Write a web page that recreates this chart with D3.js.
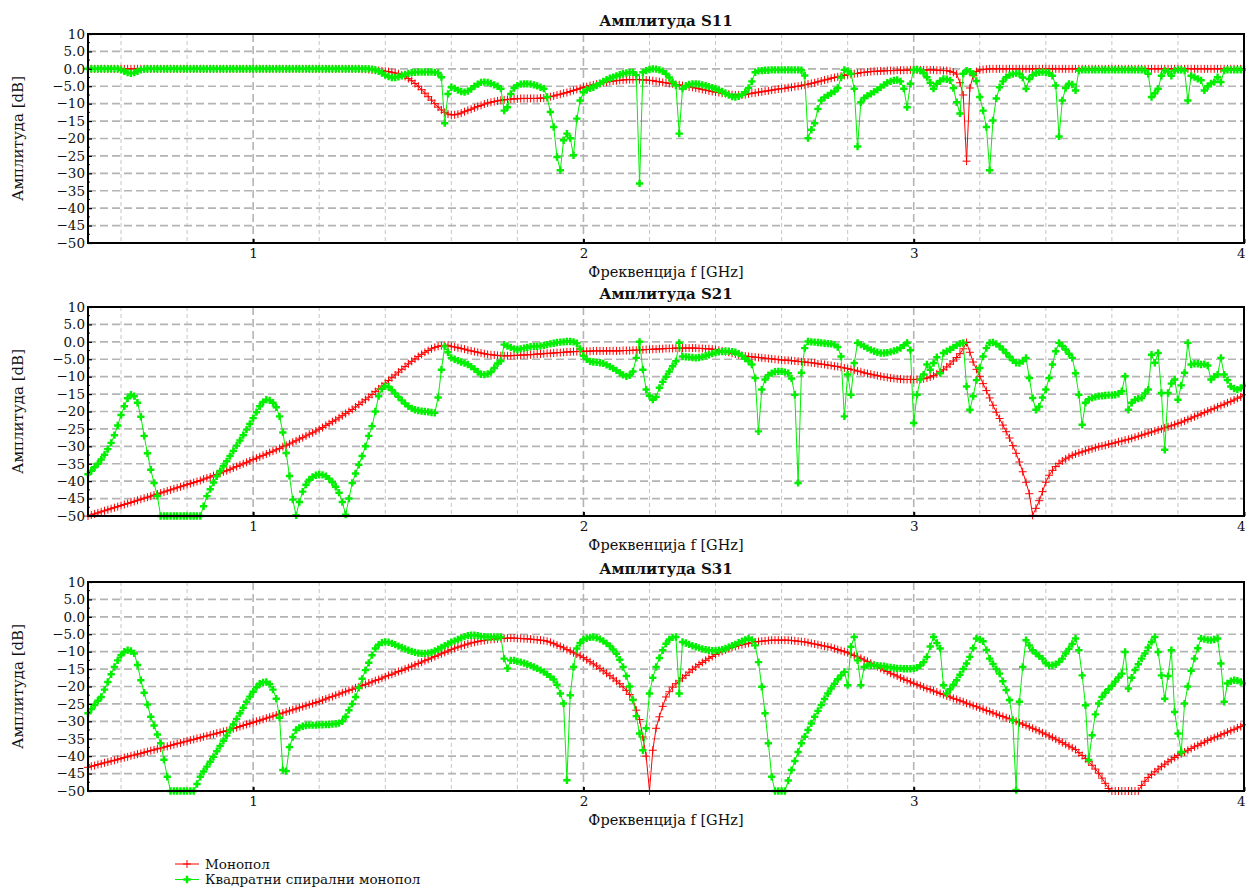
<!DOCTYPE html>
<html>
<head>
<meta charset="utf-8">
<script src="https://cdn.jsdelivr.net/npm/d3@7"></script>
<style>
  body { margin: 0; background: #fff; }
  svg text { font-family: "DejaVu Serif", serif; fill: #111; }
</style>
</head>
<body>
<svg id="chart" width="1246" height="888"></svg>
<script>
// Frequency sweep: 0.50 – 4.00 GHz, 351 points
const sweepStartGHz = 0.5, sweepStepGHz = 0.01, sweepPoints = 351;
const freqGHz = d3.range(sweepPoints).map(i => +(sweepStartGHz + i * sweepStepGHz).toFixed(2));

// |S11| [dB], one row per 0.1 GHz
const s11Mono = [
  0,0,0,0,0,0,0,0,0,0,
  0,0,0,0,0,0,0,0,0,0,
  0,0,0,0,0,0,0,0,0,0,
  0,0,0,0,0,0,0,0,0,0,
  0,0,0,0,0,0,0,0,0,0,
  0,0,0,0,0,0,0,0,0,0,
  0,0,0,0,0,0,0,0,0,0,
  0,0,0,0,0,0,0,0,0,0,
  0,0,0,-0.1,-0.1,-0.2,-0.3,-0.4,-0.5,-0.6,
  -0.7,-0.8,-1.0,-1.2,-1.4,-1.8,-2.2,-2.8,-3.4,-4.2,
  -5.0,-6.0,-7.0,-8.0,-9.0,-10.0,-11.0,-11.8,-12.5,-13.0,
  -13.2,-13.2,-13.0,-12.7,-12.3,-11.9,-11.6,-11.2,-10.8,-10.5,
  -10.1,-9.8,-9.6,-9.4,-9.2,-9.0,-8.9,-8.8,-8.7,-8.6,
  -8.6,-8.5,-8.5,-8.5,-8.5,-8.5,-8.5,-8.4,-8.4,-8.3,
  -8.0,-7.8,-7.5,-7.3,-7.0,-6.8,-6.5,-6.2,-5.9,-5.6,
  -5.3,-5.1,-4.8,-4.6,-4.4,-4.2,-4.0,-3.8,-3.6,-3.5,
  -3.4,-3.3,-3.2,-3.1,-3.1,-3.1,-3.1,-3.1,-3.2,-3.2,
  -3.3,-3.4,-3.6,-3.7,-3.9,-4.0,-4.2,-4.3,-4.5,-4.6,
  -4.8,-5.0,-5.2,-5.3,-5.5,-5.7,-5.9,-6.1,-6.3,-6.5,
  -6.7,-6.8,-7.0,-7.1,-7.3,-7.4,-7.5,-7.5,-7.5,-7.4,
  -7.2,-7.0,-6.9,-6.7,-6.6,-6.4,-6.3,-6.1,-6.0,-5.8,
  -5.7,-5.6,-5.4,-5.3,-5.1,-5.0,-4.8,-4.6,-4.4,-4.2,
  -4.0,-3.7,-3.5,-3.2,-3.0,-2.7,-2.5,-2.3,-2.1,-1.9,
  -1.7,-1.6,-1.4,-1.3,-1.1,-1.0,-0.9,-0.8,-0.7,-0.7,
  -0.6,-0.6,-0.5,-0.5,-0.5,-0.4,-0.4,-0.4,-0.4,-0.3,
  -0.3,-0.3,-0.3,-0.3,-0.3,-0.3,-0.3,-0.4,-0.4,-0.5,
  -0.5,-0.7,-1.0,-1.5,-4.0,-7.5,-26.5,-5.5,-2.0,-0.8,
  -0.3,-0.2,-0.1,0,0,0,0,0,0,0,
  0,0,0,0,0,0,0,0,0,0,
  0,0,0,0,0,0,0,0,0,0,
  0,0,0,0,0,0,0,0,0,0,
  0,0,0,0,0,0,0,0,0,0,
  0,0,0,0,0,0,0,0,0,0,
  0,0,0,0,0,0,0,0,0,0,
  0,0,0,0,0,0,0,0,0,0,
  0
];
const s11Spiral = [
  0,0,0,0,0,0,0,0,0,0,
  -0.3,-0.7,-1.1,-1.3,-1.1,-0.7,-0.3,-0.1,0,0,
  0,0,0,0,0,0,0,0,0,0,
  0,0,0,0,0,0,0,0,0,0,
  0,0,0,0,0,0,0,0,0,0,
  0,0,0,0,0,0,0,0,0,0,
  0,0,0,0,0,0,0,0,0,0,
  0,0,0,0,0,0,0,0,0,0,
  0,0,0,0,0,0,-0.1,-0.3,-0.7,-1.2,
  -1.8,-2.2,-2.5,-2.5,-2.3,-2.0,-1.6,-1.3,-1.1,-1.0,
  -0.9,-0.9,-0.9,-0.9,-0.9,-1.0,-1.2,-2.4,-15.6,-7.2,
  -5.3,-5.6,-6.1,-6.5,-6.7,-6.4,-5.8,-5.0,-4.4,-3.9,
  -3.8,-3.9,-4.2,-4.6,-5.0,-5.7,-12.0,-11.0,-7.2,-5.5,
  -4.8,-4.4,-4.3,-4.3,-4.4,-4.6,-4.9,-5.3,-5.7,-8.1,
  -12.4,-16.7,-25.3,-29.1,-20.5,-18.6,-19.9,-24.8,-14.3,-9.1,
  -6.7,-6.0,-5.6,-5.3,-4.8,-4.2,-3.6,-3.1,-2.7,-2.4,
  -2.0,-1.7,-1.4,-1.2,-1.0,-1.0,-1.8,-32.9,-1.0,-0.5,
  -0.2,0,-0.1,-0.3,-0.7,-1.4,-2.5,-3.8,-4.8,-18.6,
  -5.7,-4.9,-4.5,-4.3,-4.3,-4.4,-4.6,-4.8,-5.1,-5.4,
  -5.7,-6.1,-6.5,-7.0,-7.5,-8.0,-8.1,-7.9,-7.4,-6.7,
  -5.5,-3.6,-1.0,-0.6,-0.5,-0.4,-0.4,-0.3,-0.3,-0.3,
  -0.3,-0.3,-0.3,-0.3,-0.3,-0.3,-0.4,-1.9,-19.9,-17.5,
  -15.6,-11.5,-9.1,-8.2,-7.6,-7.0,-6.5,-5.5,-2.5,-0.3,
  -0.6,-1.4,-5.7,-22.3,-9.6,-8.4,-7.7,-7.2,-6.6,-6.0,
  -5.3,-4.6,-4.0,-3.6,-3.3,-3.2,-3.6,-5.7,-11.0,-4.3,
  -0.3,-0.2,-0.5,-1.2,-2.4,-4.0,-5.7,-4.3,-3.5,-2.9,
  -3.0,-3.3,-5.5,-9.6,-12.8,-1.4,-0.5,-0.8,-1.4,-3.5,
  -8.1,-12.0,-16.7,-29.1,-14.8,-8.5,-5.3,-3.6,-2.4,-1.8,
  -1.5,-1.3,-1.4,-2.5,-5.7,-2.9,-1.8,-1.2,-1.0,-0.9,
  -1.0,-1.2,-2.0,-4.8,-19.4,-9.1,-5.5,-4.3,-4.5,-6.2,
  -0.5,-0.3,-0.3,-0.3,-0.3,-0.3,-0.3,-0.3,-0.3,-0.3,
  -0.3,-0.3,-0.3,-0.3,-0.3,-0.3,-0.3,-0.3,-0.3,-0.3,
  -0.4,-1.4,-8.1,-7.0,-5.7,-2.0,-0.5,-0.8,-2.0,-0.5,
  -0.3,-0.3,-0.5,-9.1,-2.0,-2.4,-2.9,-3.3,-6.2,-5.0,
  -4.2,-3.8,-2.4,-3.8,-0.5,-0.3,-0.3,-0.3,-0.3,-0.3,
  -0.3
];

// |S21| [dB]
const s21Mono = [
  -50.0,-49.7,-49.4,-49.1,-48.8,-48.5,-48.2,-47.9,-47.6,-47.3,
  -47.0,-46.7,-46.4,-46.1,-45.8,-45.5,-45.2,-44.9,-44.6,-44.3,
  -44.0,-43.7,-43.4,-43.1,-42.8,-42.5,-42.2,-41.9,-41.6,-41.3,
  -41.0,-40.7,-40.4,-40.1,-39.8,-39.4,-39.1,-38.8,-38.4,-38.1,
  -37.7,-37.3,-37.0,-36.6,-36.2,-35.8,-35.4,-35.0,-34.6,-34.2,
  -33.8,-33.4,-33.0,-32.6,-32.2,-31.8,-31.4,-31.0,-30.6,-30.1,
  -29.7,-29.3,-28.8,-28.4,-27.9,-27.5,-27.0,-26.5,-26.1,-25.6,
  -25.1,-24.6,-24.0,-23.5,-22.9,-22.4,-21.8,-21.2,-20.6,-20.0,
  -19.4,-18.7,-18.0,-17.3,-16.6,-15.9,-15.1,-14.3,-13.5,-12.7,
  -11.9,-11.1,-10.3,-9.5,-8.7,-7.9,-7.1,-6.3,-5.6,-4.9,
  -4.2,-3.6,-3.0,-2.5,-2.0,-1.6,-1.3,-1.1,-1.0,-1.0,
  -1.3,-1.5,-1.7,-1.9,-2.1,-2.4,-2.6,-2.8,-3.0,-3.2,
  -3.4,-3.6,-3.7,-3.8,-3.9,-4.0,-4.0,-4.0,-4.0,-3.9,
  -3.9,-3.8,-3.8,-3.7,-3.7,-3.6,-3.5,-3.5,-3.4,-3.3,
  -3.3,-3.2,-3.1,-3.1,-3.0,-2.9,-2.9,-2.8,-2.8,-2.7,
  -2.7,-2.7,-2.7,-2.6,-2.6,-2.6,-2.6,-2.6,-2.6,-2.6,
  -2.6,-2.6,-2.5,-2.5,-2.5,-2.4,-2.4,-2.3,-2.3,-2.2,
  -2.2,-2.1,-2.1,-2.0,-2.0,-1.9,-1.9,-1.9,-1.8,-1.8,
  -1.8,-1.8,-1.8,-1.8,-1.8,-1.9,-1.9,-2.0,-2.0,-2.1,
  -2.2,-2.4,-2.6,-2.8,-3.0,-3.3,-3.5,-3.7,-3.9,-4.1,
  -4.2,-4.3,-4.4,-4.5,-4.6,-4.7,-4.8,-4.9,-5.0,-5.1,
  -5.2,-5.3,-5.3,-5.4,-5.5,-5.6,-5.7,-5.8,-5.9,-6.0,
  -6.1,-6.3,-6.4,-6.5,-6.7,-6.8,-7.0,-7.1,-7.3,-7.5,
  -7.7,-7.9,-8.1,-8.4,-8.6,-8.9,-9.1,-9.3,-9.5,-9.7,
  -9.9,-10.1,-10.2,-10.4,-10.5,-10.6,-10.7,-10.8,-10.8,-10.8,
  -10.8,-10.8,-10.7,-10.6,-10.4,-10.1,-9.7,-9.2,-8.6,-8.0,
  -7.2,-6.4,-5.5,-4.5,-3.4,-2.0,-0.2,-3.0,-5.8,-7.9,
  -9.9,-12.0,-14.0,-16.1,-18.2,-20.2,-22.0,-23.9,-25.8,-27.6,
  -29.8,-32.0,-34.5,-37.3,-40.3,-43.6,-49.8,-47.8,-45.6,-43.0,
  -40.3,-38.3,-36.9,-35.8,-34.9,-34.2,-33.6,-33.1,-32.6,-32.2,
  -31.9,-31.6,-31.3,-31.0,-30.7,-30.4,-30.1,-29.9,-29.7,-29.4,
  -29.2,-29.0,-28.7,-28.5,-28.2,-28.0,-27.7,-27.4,-27.1,-26.8,
  -26.5,-26.2,-25.9,-25.6,-25.3,-25.0,-24.7,-24.4,-24.1,-23.8,
  -23.4,-23.1,-22.7,-22.3,-21.9,-21.5,-21.1,-20.7,-20.3,-19.9,
  -19.5,-19.1,-18.7,-18.3,-17.9,-17.5,-17.1,-16.7,-16.2,-15.8,
  -15.2
];
const s21Spiral = [
  -38.0,-37.0,-36.0,-35.0,-33.8,-32.4,-30.8,-29.0,-26.8,-24.0,
  -21.0,-18.5,-16.2,-15.2,-15.6,-17.5,-21.5,-27.0,-32.0,-36.7,
  -40.5,-44.3,-50,-50,-50,-50,-50,-50,-50,-50,
  -50,-50,-50,-50,-50,-47.2,-44.3,-42.3,-40.4,-38.6,
  -37.1,-35.7,-34.3,-32.8,-31.3,-29.8,-28.3,-26.8,-25.2,-23.6,
  -21.9,-20.2,-18.5,-17.3,-16.6,-16.8,-17.5,-18.8,-21.4,-26.0,
  -31.9,-38.5,-45.3,-49.8,-46.0,-43.0,-41.0,-39.6,-38.8,-38.3,
  -38.1,-38.2,-38.6,-39.3,-40.3,-41.6,-43.3,-46.0,-49.6,-45.0,
  -40.5,-37.8,-35.3,-32.8,-30.0,-27.0,-24.2,-20.0,-15.6,-13.5,
  -12.8,-12.9,-13.8,-14.8,-15.8,-16.8,-17.7,-18.5,-19.1,-19.5,
  -19.7,-19.9,-20.0,-20.1,-20.3,-20.4,-16.0,-8.0,-1.3,-3.0,
  -4.6,-5.0,-5.4,-5.8,-6.1,-6.5,-7.1,-7.8,-8.6,-9.3,
  -9.4,-9.2,-8.7,-7.5,-6.2,-5.5,-0.8,-1.2,-1.6,-2.0,
  -2.2,-2.0,-1.8,-1.6,-1.4,-1.3,-1.3,-1.2,-1.0,-0.8,
  -0.6,-0.4,-0.2,-0.1,0.0,0.1,0.1,0.0,-0.4,-2.0,
  -4.0,-5.0,-5.6,-5.8,-5.9,-6.0,-6.2,-6.6,-7.1,-7.6,
  -8.2,-8.9,-9.5,-9.9,-9.6,-8.5,-4.6,0.0,-8.0,-13.7,
  -15.5,-16.6,-15.8,-13.2,-11.5,-10.0,-8.5,-7.0,-5.6,-0.3,
  -4.2,-4.3,-4.4,-4.5,-4.6,-4.5,-4.3,-4.0,-3.7,-3.4,
  -3.1,-2.9,-2.8,-2.7,-2.7,-2.8,-3.0,-3.4,-4.0,-4.8,
  -5.5,-6.5,-10.4,-25.7,-13.7,-10.8,-9.6,-9.0,-8.6,-8.5,
  -8.5,-8.7,-9.0,-10.5,-15.2,-40.5,-8.9,-1.8,0.1,0.0,
  -0.1,-0.2,-0.3,-0.4,-0.5,-0.6,-0.8,-1.5,-4.2,-21.4,
  -9.4,-15.2,-6.1,-0.3,-0.8,-1.3,-1.8,-2.3,-2.7,-3.0,
  -3.2,-3.2,-3.1,-2.9,-2.6,-2.3,-1.8,-1.0,-0.3,-2.4,
  -23.3,-15.2,-10.8,-9.4,-6.5,-8.0,-6.1,-4.4,-9.0,-3.2,
  -2.7,-2.2,-1.6,-1.0,-0.5,-0.3,-12.8,-19.5,-15.6,-11.0,
  -7.5,-4.2,-1.8,-0.3,-0.2,-0.6,-1.3,-2.2,-3.2,-4.3,
  -5.3,-6.0,-6.1,-5.5,-4.6,-10.4,-16.1,-19.5,-18.6,-16.0,
  -13.7,-10.4,-6.5,-2.7,-0.3,-1.2,-2.2,-3.4,-4.6,-9.0,
  -15.2,-23.8,-17.5,-16.5,-16.1,-15.8,-15.6,-15.5,-15.4,-15.3,
  -15.3,-15.2,-14.9,-14.2,-9.9,-19.5,-17.5,-16.6,-16.3,-16.1,
  -14.8,-13.7,-3.7,-6.0,-3.2,-14.7,-31.0,-14.7,-12.0,-10.8,
  -16.6,-12.5,-8.9,-0.3,-6.5,-6.3,-6.3,-6.5,-6.4,-6.8,
  -10.8,-10.0,-9.4,-4.6,-9.4,-11.0,-12.8,-13.4,-13.7,-13.3,
  -12.6
];

// |S31| [dB]
const s31Mono = [
  -43.2,-42.9,-42.7,-42.4,-42.2,-41.9,-41.7,-41.4,-41.2,-40.9,
  -40.7,-40.4,-40.2,-39.9,-39.7,-39.4,-39.2,-38.9,-38.7,-38.4,
  -38.2,-37.9,-37.7,-37.4,-37.2,-36.9,-36.7,-36.4,-36.2,-35.9,
  -35.7,-35.4,-35.2,-34.9,-34.7,-34.4,-34.2,-33.9,-33.7,-33.4,
  -33.2,-32.9,-32.7,-32.4,-32.1,-31.8,-31.5,-31.2,-30.9,-30.6,
  -30.3,-30.0,-29.7,-29.4,-29.1,-28.8,-28.5,-28.2,-27.9,-27.6,
  -27.3,-27.0,-26.7,-26.4,-26.1,-25.8,-25.5,-25.2,-24.9,-24.6,
  -24.3,-23.9,-23.6,-23.2,-22.9,-22.5,-22.2,-21.8,-21.5,-21.1,
  -20.8,-20.4,-20.1,-19.7,-19.4,-19.0,-18.7,-18.3,-18.0,-17.6,
  -17.2,-16.8,-16.5,-16.1,-15.7,-15.4,-15.0,-14.6,-14.2,-13.8,
  -13.4,-13.0,-12.6,-12.2,-11.8,-11.4,-11.0,-10.6,-10.2,-9.8,
  -9.4,-9.0,-8.7,-8.4,-8.1,-7.8,-7.5,-7.3,-7.1,-6.9,
  -6.8,-6.6,-6.5,-6.4,-6.3,-6.2,-6.2,-6.1,-6.1,-6.1,
  -6.2,-6.2,-6.3,-6.3,-6.4,-6.5,-6.6,-6.7,-6.8,-7.0,
  -7.3,-7.7,-8.1,-8.5,-8.9,-9.4,-9.8,-10.3,-10.7,-11.2,
  -11.7,-12.3,-12.9,-13.5,-14.1,-14.8,-15.5,-16.2,-16.9,-17.6,
  -18.4,-19.2,-20.1,-21.1,-22.3,-23.7,-26.8,-29.5,-34.5,-40.0,
  -50.0,-38.3,-32.0,-28.7,-25.7,-23.0,-21.5,-20.2,-19.2,-18.4,
  -17.6,-16.8,-15.9,-15.1,-14.4,-13.7,-13.1,-12.5,-11.9,-11.4,
  -10.8,-10.3,-9.9,-9.5,-9.1,-8.8,-8.5,-8.2,-8.0,-7.8,
  -7.6,-7.4,-7.2,-7.1,-7.0,-6.9,-6.8,-6.7,-6.7,-6.7,
  -6.7,-6.7,-6.7,-6.8,-6.9,-7.0,-7.1,-7.2,-7.4,-7.6,
  -7.8,-8.0,-8.2,-8.4,-8.6,-8.8,-9.1,-9.4,-9.7,-10.0,
  -10.3,-10.7,-11.1,-11.5,-11.9,-12.4,-12.8,-13.3,-13.8,-14.3,
  -14.8,-15.3,-15.7,-16.2,-16.6,-17.0,-17.5,-17.9,-18.3,-18.7,
  -19.1,-19.5,-19.8,-20.2,-20.6,-20.9,-21.3,-21.6,-22.0,-22.3,
  -22.7,-23.0,-23.4,-23.7,-24.1,-24.4,-24.8,-25.1,-25.5,-25.8,
  -26.2,-26.5,-26.9,-27.2,-27.6,-27.9,-28.3,-28.6,-29.0,-29.3,
  -29.7,-30.0,-30.4,-30.8,-31.2,-31.6,-32.0,-32.4,-32.8,-33.3,
  -33.7,-34.2,-34.6,-35.1,-35.6,-36.1,-36.6,-37.1,-37.6,-38.1,
  -39.0,-39.8,-40.7,-41.6,-42.6,-43.7,-44.9,-46.3,-47.8,-49.3,
  -50,-50,-50,-50,-50,-50,-50,-50,-50,-48.4,
  -47.2,-46.1,-45.3,-44.5,-43.7,-43.0,-42.3,-41.6,-41.0,-40.4,
  -39.8,-39.3,-38.8,-38.3,-37.8,-37.3,-36.9,-36.4,-36.0,-35.5,
  -35.1,-34.7,-34.3,-33.9,-33.5,-33.1,-32.7,-32.3,-31.9,-31.5,
  -31.0
];
const s31Spiral = [
  -27.7,-26.5,-25.3,-24.1,-23.0,-20.9,-18.7,-16.5,-14.4,-12.5,
  -11.0,-10.0,-9.6,-9.8,-10.5,-13.8,-18.2,-21.8,-25.2,-28.7,
  -31.2,-33.8,-36.3,-41.0,-45.9,-50,-50,-50,-50,-50,
  -50,-50,-50,-48.0,-45.9,-44.4,-43.0,-41.6,-40.2,-38.6,
  -37.1,-35.6,-34.1,-32.5,-30.9,-29.3,-27.7,-26.1,-24.4,-22.9,
  -21.5,-20.2,-19.2,-18.8,-18.7,-19.3,-20.9,-23.5,-29.0,-44.0,
  -44.3,-37.4,-34.5,-32.5,-31.8,-31.4,-31.2,-31.1,-31.1,-31.1,
  -31.0,-31.0,-30.9,-30.9,-30.8,-30.7,-30.5,-30.0,-28.7,-26.8,
  -25.0,-23.0,-20.4,-17.8,-15.3,-13.2,-11.0,-9.1,-8.0,-7.4,
  -7.2,-7.3,-7.6,-8.0,-8.4,-8.8,-9.2,-9.6,-9.9,-10.2,
  -10.4,-10.5,-10.5,-10.4,-10.2,-9.8,-9.3,-8.8,-8.3,-7.8,
  -7.3,-6.9,-6.5,-6.1,-5.7,-5.4,-5.3,-5.3,-5.4,-5.6,
  -5.7,-5.8,-5.8,-5.8,-5.8,-5.8,-12.0,-14.8,-12.5,-12.5,
  -12.8,-13.0,-13.3,-13.6,-14.0,-14.4,-14.8,-15.3,-15.8,-16.5,
  -17.2,-18.0,-19.5,-22.0,-24.9,-46.9,-22.5,-14.4,-9.1,-7.5,
  -6.5,-6.2,-5.9,-5.8,-6.0,-6.4,-6.9,-7.6,-8.4,-9.4,
  -10.6,-12.3,-14.4,-17.0,-20.0,-23.9,-28.5,-33.5,-38.3,-32.0,
  -22.0,-17.5,-14.4,-11.8,-9.6,-7.7,-6.5,-5.9,-5.8,-22.0,
  -7.2,-7.5,-7.9,-8.3,-8.6,-8.9,-9.2,-9.4,-9.6,-9.7,
  -9.7,-9.6,-9.4,-9.1,-8.7,-8.3,-7.9,-7.4,-7.0,-6.6,
  -6.2,-6.6,-8.2,-13.0,-20.1,-27.7,-36.3,-45.9,-50.0,-50.0,
  -50.0,-50.0,-47.0,-44.0,-41.4,-38.8,-36.3,-34.4,-32.5,-30.6,
  -28.7,-27.0,-25.3,-23.6,-22.0,-20.6,-19.2,-17.9,-16.8,-15.8,
  -19.6,-8.6,-5.8,-12.5,-19.6,-14.4,-14.0,-13.9,-13.9,-14.0,
  -14.1,-14.2,-14.4,-14.5,-14.7,-14.8,-14.8,-14.9,-14.9,-14.9,
  -14.8,-14.6,-14.0,-13.0,-11.5,-8.5,-5.8,-7.5,-9.1,-19.6,
  -22.0,-20.8,-19.5,-18.2,-16.6,-15.0,-13.4,-11.5,-9.0,-6.2,
  -6.5,-7.0,-9.5,-12.0,-13.5,-15.0,-16.3,-18.5,-21.0,-23.9,
  -29.7,-49.7,-24.4,-14.4,-6.7,-8.2,-9.6,-10.5,-11.3,-12.0,
  -13.3,-13.9,-13.9,-13.6,-13.0,-12.0,-10.5,-9.2,-7.8,-6.2,
  -9.6,-16.8,-25.4,-41.1,-34.0,-28.0,-24.9,-23.0,-21.8,-20.8,
  -19.8,-18.6,-17.4,-16.3,-10.1,-20.6,-17.5,-15.3,-13.6,-12.0,
  -10.5,-8.8,-7.2,-5.8,-10.1,-16.8,-23.5,-17.0,-9.6,-27.3,
  -33.5,-38.8,-24.9,-20.0,-15.5,-12.0,-9.0,-6.2,-6.4,-6.6,
  -6.7,-6.5,-6.2,-13.4,-24.4,-19.1,-18.5,-18.2,-18.3,-18.7,
  -19.1
];

// Axis ticks and labels
const xTicks = [1, 2, 3, 4];
const xTickLabels = ["1", "2", "3", "4"];
const xMinorGrid = [0.6, 0.8, 1.2, 1.4, 1.6, 1.8, 2.2, 2.4, 2.6, 2.8, 3.2, 3.4, 3.6, 3.8];
const yTicks = [10, 5, 0, -5, -10, -15, -20, -25, -30, -35, -40, -45, -50];
const yTickLabels = ["10", "5.0", "0.0", "\u22125.0", "\u221210", "\u221215", "\u221220", "\u221225",
                     "\u221230", "\u221235", "\u221240", "\u221245", "\u221250"];
const yMinorTicks = d3.range(-47.5, 10, 5);

const seriesNames = ["Монопол", "Квадратни спирални монопол"];
const seriesColors = ["#ff0000", "#00f000"];

const panels = [
  { title: "Амплитуда S11", top: 34,  mono: s11Mono, spiral: s11Spiral },
  { title: "Амплитуда S21", top: 307, mono: s21Mono, spiral: s21Spiral },
  { title: "Амплитуда S31", top: 582, mono: s31Mono, spiral: s31Spiral }
];

const plotLeft = 88, plotRight = 1244, plotH = 209;
const svg = d3.select("#chart");
const x = d3.scaleLinear().domain([0.5, 4]).range([plotLeft, plotRight]);

// "+" marker, 8 px across; filled cross marker, 7 px across
const plusMark = d3.symbol(d3.symbolPlus, 23)();
const crossMark = d3.symbol(d3.symbolCross, 30)();

function drawSeries(g, y, values, color, marker) {
  const pts = values.map((v, i) => [freqGHz[i], v]);
  g.append("path")
    .datum(pts)
    .attr("fill", "none")
    .attr("stroke", color)
    .attr("stroke-width", 1)
    .attr("d", d3.line().x(d => x(d[0])).y(d => y(d[1])));
  const m = g.append("g").selectAll("path").data(pts).join("path")
    .attr("transform", d => `translate(${x(d[0])},${y(d[1])})`)
    .attr("d", marker === "plus" ? plusMark : crossMark);
  if (marker === "plus") m.attr("fill", "none").attr("stroke", color).attr("stroke-width", 1);
  else m.attr("fill", color).attr("stroke", "none");
}

panels.forEach((p, k) => {
  const y = d3.scaleLinear().domain([-50, 10]).range([p.top + plotH, p.top]);
  const g = svg.append("g");
  const bottom = p.top + plotH;

  // grid
  g.append("g").selectAll("line").data(xMinorGrid).join("line")
    .attr("x1", d => x(d)).attr("x2", d => x(d))
    .attr("y1", p.top).attr("y2", bottom)
    .attr("stroke", "#c6c6c6").attr("stroke-width", 1).attr("stroke-dasharray", "4,3");
  g.append("g").selectAll("line").data(xTicks.filter(d => d < 4)).join("line")
    .attr("x1", d => x(d)).attr("x2", d => x(d))
    .attr("y1", p.top).attr("y2", bottom)
    .attr("stroke", "#b4b4b4").attr("stroke-width", 1.6).attr("stroke-dasharray", "8,4");
  g.append("g").selectAll("line").data(yTicks.filter(d => d < 10 && d > -50)).join("line")
    .attr("x1", plotLeft).attr("x2", plotRight)
    .attr("y1", d => y(d)).attr("y2", d => y(d))
    .attr("stroke", "#b4b4b4").attr("stroke-width", 1.6).attr("stroke-dasharray", "8,4");

  // data
  const clipId = "clip" + k;
  svg.append("clipPath").attr("id", clipId).append("rect")
    .attr("x", plotLeft - 6).attr("y", p.top - 6).attr("width", plotRight - plotLeft + 12).attr("height", plotH + 12);
  const dg = g.append("g").attr("clip-path", `url(#${clipId})`);
  drawSeries(dg, y, p.mono, seriesColors[0], "plus");
  drawSeries(dg, y, p.spiral, seriesColors[1], "cross");

  // frame
  g.append("rect")
    .attr("x", plotLeft).attr("y", p.top)
    .attr("width", plotRight - plotLeft).attr("height", plotH)
    .attr("fill", "none").attr("stroke", "#000").attr("stroke-width", 2);

  // axes
  const yAxis = g.append("g").attr("transform", `translate(${plotLeft},0)`)
    .call(d3.axisLeft(y).tickValues(yTicks).tickFormat((d, i) => yTickLabels[i])
      .tickSizeInner(-4).tickSizeOuter(0).tickPadding(3));
  yAxis.select(".domain").remove();
  yAxis.selectAll("text").attr("font-size", 13.5).attr("font-family", "DejaVu Serif").attr("fill", "#222");
  yAxis.selectAll("line").attr("stroke-width", 1.2);
  g.append("g").selectAll("line").data(yMinorTicks).join("line")
    .attr("x1", plotLeft).attr("x2", plotLeft + 2)
    .attr("y1", d => y(d)).attr("y2", d => y(d))
    .attr("stroke", "#000").attr("stroke-width", 1);

  const xAxis = g.append("g").attr("transform", `translate(0,${bottom})`)
    .call(d3.axisBottom(x).tickValues(xTicks).tickFormat((d, i) => xTickLabels[i])
      .tickSizeInner(-4).tickSizeOuter(0).tickPadding(5));
  xAxis.select(".domain").remove();
  xAxis.selectAll("text").attr("font-size", 13.5).attr("font-family", "DejaVu Serif").attr("fill", "#222")
    .attr("text-anchor", d => d === 4 ? "end" : "middle")
    .attr("dx", d => d === 4 ? 1 : 0);
  xAxis.selectAll("line").attr("stroke-width", 2);

  // titles
  g.append("text")
    .attr("x", (plotLeft + plotRight) / 2).attr("y", p.top - 8)
    .attr("text-anchor", "middle").attr("font-size", 15).attr("font-weight", "bold")
    .text(p.title);
  g.append("text")
    .attr("x", (plotLeft + plotRight) / 2).attr("y", bottom + 34)
    .attr("text-anchor", "middle").attr("font-size", 14.5)
    .text("Фреквенција f [GHz]");
  g.append("text")
    .attr("transform", `translate(23,${p.top + plotH / 2}) rotate(-90)`)
    .attr("text-anchor", "middle").attr("font-size", 15)
    .text("Амплитуда [dB]");
});

// legend
const legend = svg.append("g").attr("transform", "translate(175,864)");
seriesNames.forEach((name, i) => {
  const row = legend.append("g").attr("transform", `translate(0,${i * 15.5})`);
  row.append("line").attr("x1", 0).attr("x2", 24).attr("y1", 0).attr("y2", 0)
    .attr("stroke", seriesColors[i]).attr("stroke-width", 1);
  row.append("path").attr("transform", "translate(12,0)")
    .attr("d", i === 0 ? plusMark : crossMark)
    .attr("fill", i === 0 ? "none" : seriesColors[i])
    .attr("stroke", i === 0 ? seriesColors[i] : "none");
  row.append("text").attr("x", 30).attr("y", 4.5).attr("font-size", 13.5).attr("fill", "#222").text(name);
});
</script>
</body>
</html>
